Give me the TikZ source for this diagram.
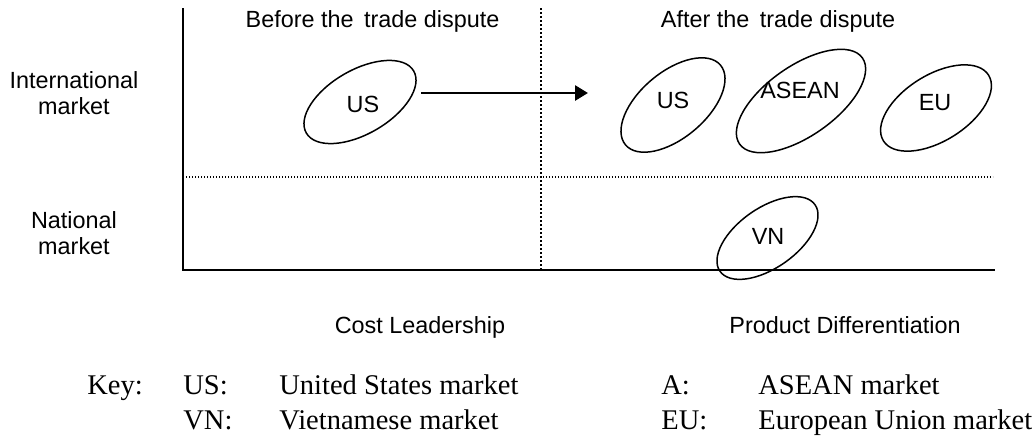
\documentclass[tikz,border=0pt]{standalone}
\usepackage{fontspec}
\setmainfont{Liberation Serif}
\setsansfont{Liberation Sans}
\usetikzlibrary{shapes.geometric,arrows.meta}
\tikzset{
    mkt/.style={draw=black, shape=ellipse, line width=0.75pt, inner sep=0pt},
    lbl/.style={font=\sffamily\fontsize{11.7}{12.75}\selectfont, inner sep=0pt},
    keytxt/.style={font=\rmfamily\fontsize{14.25}{17}\selectfont, inner sep=0pt, anchor=base west},
    axis/.style={line width=0.85pt},
    vgrid/.style={line width=0.9pt, dash pattern=on 0.9pt off 1.1pt},
    hgrid/.style={line width=0.6pt, dash pattern=on 0.6pt off 0.9pt}
}
\begin{document}
\begin{tikzpicture}[x=0.5pt,y=-0.5pt]
        \useasboundingbox (0,0) rectangle (1035,435);
        \coordinate (top) at (183,8);
        \coordinate (origin) at (183,270);
        \coordinate (right) at (995,270);
        \coordinate (midtop) at (541,8);
        \coordinate (midbot) at (541,270);
        \coordinate (hl) at (183,177);
        \coordinate (hr) at (993,177);
        \draw[axis] (top) -- (origin) -- (right);
        \draw[vgrid] (midtop) -- (midbot);
        \draw[hgrid] (hl) -- (hr);
        \node[lbl, anchor=base] (before) at (372.5,27) {Before the\, trade dispute};
        \node[lbl, anchor=base] (after) at (778,27) {After the\, trade dispute};
        \node[lbl, align=center] (intl) at (74,93) {International\\market};
        \node[lbl, align=center] (natl) at (74,233) {National\\market};
        \node[mkt, minimum width=62pt, minimum height=32pt, rotate=30] (usBefore) at (360,102) {};
        \node[mkt, minimum width=62pt, minimum height=33pt, rotate=40] (usAfter) at (673,105) {};
        \node[mkt, minimum width=75pt, minimum height=35pt, rotate=35] (asean) at (801,101) {};
        \node[mkt, minimum width=62pt, minimum height=33pt, rotate=32] (eu) at (936,108) {};
        \node[mkt, minimum width=58pt, minimum height=30pt, rotate=35] (vn) at (767.5,238) {};
        \node[lbl] (usBeforeTxt) at (363,104) {US};
        \node[lbl] (usAfterTxt) at (673,100) {US};
        \node[lbl] (aseanTxt) at (800,90) {ASEAN};
        \node[lbl] (euTxt) at (935,103) {EU};
        \node[lbl] (vnTxt) at (768,236) {VN};
        \coordinate (arrS) at (421,93);
        \coordinate (arrE) at (588,93);
        \draw[line width=1.4pt, -{Triangle[length=6.5pt,width=7.5pt]}] (arrS) -- (arrE);
        \node[lbl, anchor=base] (cost) at (420,333) {Cost Leadership};
        \node[lbl, anchor=base] (diff) at (845,333) {Product Differentiation};
        \node[keytxt] (key) at (87,394) {Key:};
        \node[keytxt] (kUS) at (183,394) {US:};
        \node[keytxt] (kUSt) at (279,394) {United States market};
        \node[keytxt] (kVN) at (183,429) {VN:};
        \node[keytxt] (kVNt) at (279,429) {Vietnamese market};
        \node[keytxt] (kA) at (661,394) {A:};
        \node[keytxt] (kAt) at (758,394) {ASEAN market};
        \node[keytxt] (kEU) at (661,429) {EU:};
        \node[keytxt] (kEUt) at (758,429) {European Union market};
    \end{tikzpicture}
\end{document}
